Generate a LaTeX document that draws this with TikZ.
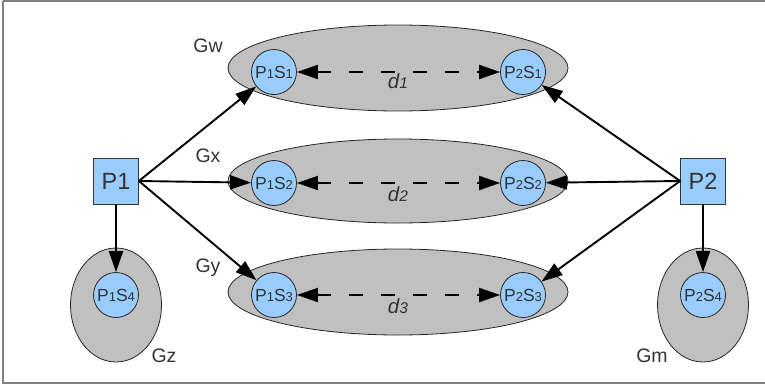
\documentclass[tikz,border=0pt]{standalone}
\usepackage{fontspec}
\setmainfont{Liberation Sans}
\usetikzlibrary{arrows.meta,shapes.geometric}

\definecolor{nodeblue}{HTML}{99CCFF}
\definecolor{groupgrey}{HTML}{C0C0C0}
\definecolor{inkgrey}{HTML}{333333}
\definecolor{framegrey}{HTML}{808080}

\tikzset{
  proc/.style={draw=black!80, fill=nodeblue, line width=0.8pt, minimum width=45pt,
    minimum height=46pt, inner sep=0pt, text=inkgrey, font=\fontsize{23.5}{23.5}\selectfont},
  svc/.style={circle, draw=black!85, fill=nodeblue, line width=0.8pt, minimum size=45pt,
    inner sep=0pt, text=inkgrey, font=\fontsize{17.5}{17.5}\selectfont},
  group/.style={ellipse, draw=black!85, fill=groupgrey, line width=0.8pt, inner sep=0pt},
  glabel/.style={text=inkgrey, font=\fontsize{19.5}{19.5}\selectfont, inner sep=0pt},
  dlabel/.style={text=inkgrey, font=\fontsize{20.5}{20.5}\selectfont\itshape, inner sep=0pt},
  tip/.tip={Triangle[length=21pt,width=14pt]},
  link/.style={line width=1.9pt, -tip},
  dist/.style={line width=1.9pt, dash pattern=on 14pt off 18pt, tip-tip},
}
\newcommand{\sm}[1]{{\fontsize{13}{13}\selectfont #1}}
\newcommand{\dsm}[1]{{\fontsize{15.5}{15.5}\selectfont #1}}

\begin{document}
\begin{tikzpicture}[x=1pt,y=-1pt]
  \useasboundingbox (0,0) rectangle (765,388);
  \draw[framegrey, line width=1.2pt] (3,1) -- (770,1) (3,1) -- (3,383) -- (770,383);

  % groups
  \node[group, minimum width=340pt, minimum height=86pt] (gw) at (398,68) {};
  \node[group, minimum width=340pt, minimum height=84pt] (gx) at (398,181) {};
  \node[group, minimum width=340pt, minimum height=86pt] (gy) at (398,292) {};
  \node[group, minimum width=91pt, minimum height=114pt] (gz) at (116,305) {};
  \node[group, minimum width=91pt, minimum height=114pt] (gm) at (703,305) {};

  % group labels
  \node[glabel] (lw) at (208,46) {Gw};
  \node[glabel] (lx) at (208,156) {Gx};
  \node[glabel] (ly) at (208,268) {Gy};
  \node[glabel] (lz) at (164,356) {Gz};
  \node[glabel] (lm) at (652,356) {Gm};

  % processes
  \node[proc] (p1) at (116,181) {P1};
  \node[proc] (p2) at (703,181) {P2};

  % services
  \node[svc] (s11) at (274,72) {P\sm{1}S\sm{1}};
  \node[svc] (s21) at (523,72) {P\sm{2}S\sm{1}};
  \node[svc] (s12) at (274,183) {P\sm{1}S\sm{2}};
  \node[svc] (s22) at (523,183) {P\sm{2}S\sm{2}};
  \node[svc] (s13) at (274,295) {P\sm{1}S\sm{3}};
  \node[svc] (s23) at (523,295) {P\sm{2}S\sm{3}};
  \node[svc] (s14) at (116,295) {P\sm{1}S\sm{4}};
  \node[svc] (s24) at (703,295) {P\sm{2}S\sm{4}};

  % process to service links
  \draw[link] (p1.east) -- (s11);
  \draw[link] (p1.east) -- (s12);
  \draw[link] (p1.east) -- (s13);
  \draw[link] (p1.south) -- (s14);
  \draw[link] (p2.west) -- (s21);
  \draw[link] (p2.west) -- (s22);
  \draw[link] (p2.west) -- (s23);
  \draw[link] (p2.south) -- (s24);

  % distances
  \draw[dist] (s11) -- (s21);
  \draw[dist] (s12) -- (s22);
  \draw[dist] (s13) -- (s23);
  \node[dlabel] (d1) at (398,81) {d\dsm{1}};
  \node[dlabel] (d2) at (398,194) {d\dsm{2}};
  \node[dlabel] (d3) at (398,306) {d\dsm{3}};
\end{tikzpicture}
\end{document}
